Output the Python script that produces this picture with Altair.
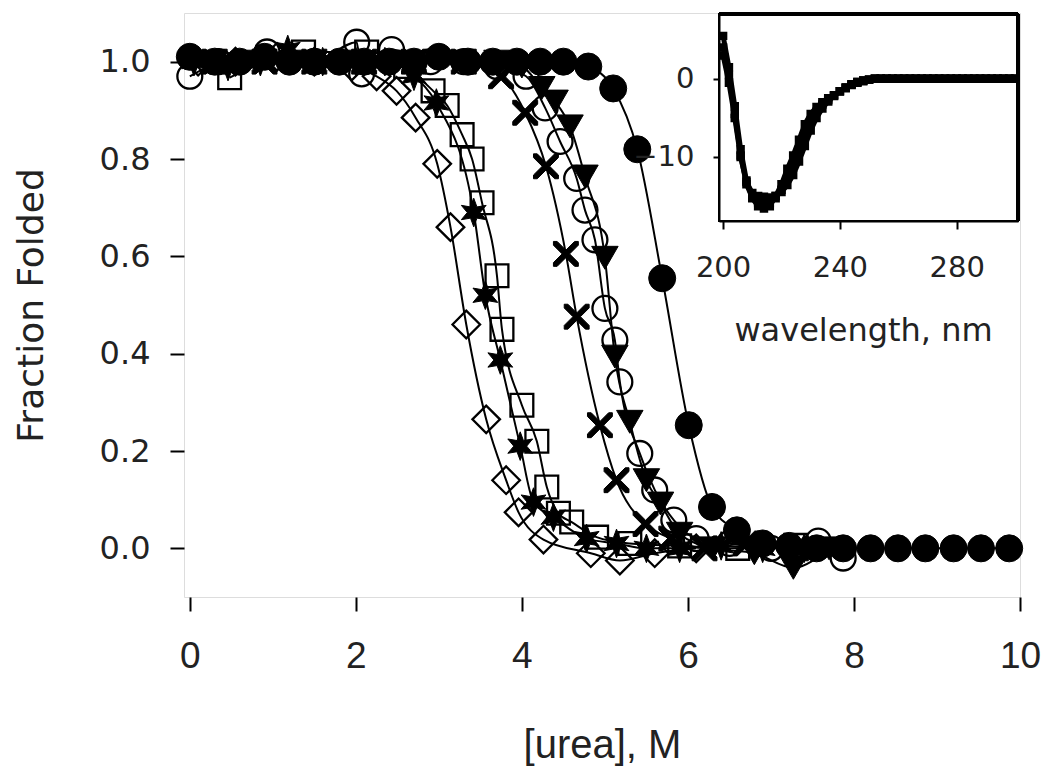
import altair as alt
import pandas as pd

# ---------------- main panel: fraction folded vs [urea] ----------------
fcirc_x = [0.0, 0.3, 0.6, 0.9, 1.2, 1.5, 1.8, 2.1, 2.4, 2.7, 3.0, 3.35, 3.65, 3.94, 4.22, 4.5,
           4.8, 5.1, 5.39, 5.69, 6.01, 6.29, 6.59, 6.9, 7.22, 7.55, 7.87, 8.2, 8.53, 8.86, 9.2, 9.53, 9.87]
fcirc_y = [1.01, 1.0, 1.0, 1.01, 1.0, 1.0, 1.0, 1.0, 1.0, 1.0, 1.01, 1.0, 1.0, 1.0, 1.0, 1.0,
           0.99, 0.945, 0.82, 0.555, 0.253, 0.085, 0.037, 0.01, 0.005, 0.0, 0.0, 0.0, 0.0, 0.0, 0.0, 0.0, 0.0]

ocirc_x = [0.0, 0.35, 0.93, 1.5, 2.01, 2.07, 2.43, 2.9, 3.3, 3.7, 4.05, 4.28, 4.46, 4.66, 4.76, 4.88,
           5.0, 5.12, 5.18, 5.42, 5.6, 5.83, 6.1, 6.5, 7.0, 7.57, 7.87]
ocirc_y = [0.97, 1.0, 1.02, 1.0, 1.04, 0.975, 1.025, 1.0, 1.0, 0.99, 0.97, 0.905, 0.836, 0.76, 0.695, 0.634,
           0.493, 0.428, 0.342, 0.195, 0.12, 0.058, 0.02, 0.01, 0.0, 0.015, -0.02]

tri_x = [0.2, 0.8, 1.4, 2.0, 2.6, 3.2, 3.7, 4.0, 4.24, 4.4, 4.58, 4.76, 5.0, 5.12, 5.3, 5.5, 5.67,
         5.9, 6.3, 6.8, 7.27, 7.7]
tri_y = [1.0, 1.0, 1.0, 1.0, 1.0, 1.0, 1.0, 0.99, 0.946, 0.918, 0.867, 0.764, 0.597, 0.394, 0.26, 0.14, 0.092,
         0.03, 0.0, -0.01, -0.04, 0.0]

sq_x = [0.48, 1.37, 2.13, 2.6, 2.93, 3.10, 3.28, 3.40, 3.52, 3.70, 3.76, 4.0, 4.18, 4.30, 4.44, 4.6,
        4.9, 5.3, 5.9, 6.6, 7.3]
sq_y = [0.967, 1.02, 1.02, 0.99, 0.94, 0.91, 0.85, 0.80, 0.71, 0.56, 0.45, 0.294, 0.22, 0.126, 0.072, 0.054,
        0.023, 0.01, 0.005, 0.0, 0.006]

dia_x = [0.1, 0.55, 1.05, 1.5, 1.95, 2.25, 2.49, 2.72, 2.98, 3.14, 3.33, 3.57, 3.81, 3.96, 4.26,
         4.83, 5.18, 5.6, 6.1]
dia_y = [1.0, 1.0, 1.01, 1.0, 0.99, 0.97, 0.94, 0.885, 0.79, 0.66, 0.46, 0.265, 0.14, 0.074, 0.018,
         -0.01, -0.025, -0.01, 0.0]

star_x = [0.05, 0.46, 0.85, 1.18, 1.6, 2.0, 2.35, 2.7, 2.97, 3.42, 3.56, 3.74, 3.98, 4.14, 4.38,
          4.78, 5.14, 5.5, 5.9, 6.4, 6.9, 7.4]
star_y = [1.0, 0.99, 1.0, 1.025, 1.0, 1.0, 1.0, 0.97, 0.915, 0.69, 0.52, 0.387, 0.21, 0.095, 0.064,
          0.02, 0.01, 0.0, 0.0, 0.005, 0.0, 0.0]

cross_x = [0.3, 0.9, 1.5, 2.1, 2.7, 3.3, 3.75, 4.04, 4.29, 4.53, 4.66, 4.94, 5.14, 5.49, 5.8, 6.2, 6.7, 7.3]
cross_y = [1.0, 1.0, 1.0, 1.0, 1.0, 1.0, 0.97, 0.895, 0.785, 0.605, 0.476, 0.253, 0.14, 0.05, 0.02, 0.0, 0.01, 0.0]

urea_ticks = [0, 2, 4, 6, 8, 10]
frac_ticks = [0.0, 0.2, 0.4, 0.6, 0.8, 1.0]

# ---------------- inset: CD spectra ----------------
wavelength = [200, 202, 204, 206, 208, 210, 212, 214, 216, 218, 220, 222, 224, 226, 228, 230, 232,
              234, 236, 238, 240, 242, 244, 246, 248, 250, 252, 254, 256, 258, 260, 262, 264, 266,
              268, 270, 272, 274, 276, 278, 280, 282, 284, 286, 288, 290, 292, 294, 296, 298, 300]
cd_a = [5.5, 1.5, -3.5, -9.0, -13.0, -15.3, -16.3, -16.6, -16.3, -15.0, -13.5, -11.5, -9.8, -7.8, -5.8,
        -4.5, -3.6, -3.0, -2.5, -2.1, -1.6, -1.2, -0.8, -0.5, -0.3, -0.1, 0.0, 0.0, 0.0, 0.0, 0.0, 0.0,
        0.0, 0.0, 0.0, 0.0, 0.0, 0.0, 0.0, 0.0, 0.0, 0.0, 0.0, 0.0, 0.0, 0.0, 0.0, 0.0, 0.0, 0.0, 0.0]
cd_b = [4.0, 0.5, -4.5, -9.8, -13.5, -15.2, -15.8, -16.0, -15.9, -15.3, -14.2, -12.6, -11.0, -9.1, -7.1,
        -5.4, -4.2, -3.3, -2.7, -2.1, -1.6, -1.1, -0.7, -0.4, -0.2, -0.1, 0.0, 0.0, 0.0, 0.0, 0.0, 0.0,
        0.0, 0.0, 0.0, 0.0, 0.0, 0.0, 0.0, 0.0, 0.0, 0.0, 0.0, 0.0, 0.0, 0.0, 0.0, 0.0, 0.0, 0.0, 0.0]
cd_c = [3.0, -0.5, -5.0, -10.0, -13.2, -14.6, -15.0, -15.1, -15.2, -15.0, -14.5, -13.6, -12.3, -10.6, -8.6,
        -6.6, -5.0, -3.8, -2.9, -2.2, -1.6, -1.1, -0.7, -0.4, -0.2, -0.1, 0.0, 0.0, 0.0, 0.0, 0.0, 0.0,
        0.0, 0.0, 0.0, 0.0, 0.0, 0.0, 0.0, 0.0, 0.0, 0.0, 0.0, 0.0, 0.0, 0.0, 0.0, 0.0, 0.0, 0.0, 0.0]
wl_ticks = [200, 240, 280]
cd_ticks = [0, -10]
inset_wl_domain = [198.6, 301.0]
inset_cd_domain = [-18.2, 8.3]

# ---------------- styling ----------------
W, H = 836, 584
TXT = "#222222"
STAR6 = "M0,-1L0.225,-0.39L0.866,-0.5L0.45,0L0.866,0.5L0.225,0.39L0,1L-0.225,0.39L-0.866,0.5L-0.45,0L-0.866,-0.5L-0.225,-0.39Z"
XMARK = "M0,-0.3L0.7,-1L1,-1L1,-0.7L0.3,0L1,0.7L1,1L0.7,1L0,0.3L-0.7,1L-1,1L-1,0.7L-0.3,0L-1,-0.7L-1,-1L-0.7,-1Z"

mx = alt.X(
    "urea:Q",
    scale=alt.Scale(domain=[-0.07, 10], nice=False, zero=False),
    axis=alt.Axis(values=urea_ticks, format="d", grid=False, domain=False,
                  tickSize=14, tickWidth=2, tickColor="black",
                  labelFont="Liberation Sans", labelFontSize=37, labelColor=TXT,
                  labelPadding=27, labelFlush=False,
                  title="[urea], M", titleFont="Liberation Sans", titleFontSize=40,
                  titleFontWeight="normal", titleColor=TXT,
                  titleBaseline="alphabetic", titleY=160),
)
my = alt.Y(
    "frac:Q",
    scale=alt.Scale(domain=[-0.1, 1.1], nice=False, zero=False),
    axis=alt.Axis(values=frac_ticks, format=".1f", grid=False, domain=False,
                  tickSize=14, tickWidth=2, tickColor="black",
                  labelFont="DejaVu Sans", labelFontSize=32, labelColor=TXT,
                  labelPadding=20, labelFlush=False,
                  title="Fraction Folded", titleFont="DejaVu Sans", titleFontSize=36,
                  titleFontWeight="normal", titleColor=TXT, titleAngle=270,
                  titleBaseline="alphabetic", titleX=-142),
)

series = [
    (dia_x, dia_y, "diamond", False, 760),
    (sq_x, sq_y, "square", False, 520),
    (star_x, star_y, STAR6, True, 820),
    (cross_x, cross_y, XMARK, True, 620),
    (ocirc_x, ocirc_y, "circle", False, 620),
    (tri_x, tri_y, "triangle-down", True, 700),
    (fcirc_x, fcirc_y, "circle", True, 730),
]

line_layers = []
point_layers = []
for xs, ys, shape, filled, size in series:
    d = pd.DataFrame({"urea": xs, "frac": ys})
    line_layers.append(
        alt.Chart(d).mark_line(color="black", strokeWidth=2, interpolate="monotone")
        .encode(x=mx, y=my)
    )
    if filled:
        pm = alt.Chart(d).mark_point(shape=shape, size=size, filled=True, fill="black",
                                     stroke="black", strokeWidth=1, opacity=1)
    else:
        pm = alt.Chart(d).mark_point(shape=shape, size=size, filled=False,
                                     stroke="black", strokeWidth=2.3, opacity=1)
    point_layers.append(pm.encode(x=mx, y=my))

main = alt.layer(*line_layers, *point_layers)

# ---------------- inset ----------------
wl_scale = alt.Scale(domain=inset_wl_domain, range=[535, 834], nice=False, zero=False)
cd_scale = alt.Scale(domain=inset_cd_domain, range=[208, 1], nice=False, zero=False)
wl_axis = alt.Axis(orient="bottom", offset=-376, values=wl_ticks, format="d", grid=False,
                   domain=True, domainWidth=2, domainColor="black",
                   tickSize=8, tickWidth=2, tickColor="black",
                   labelFont="DejaVu Sans", labelFontSize=29, labelColor=TXT,
                   labelPadding=24, labelFlush=False,
                   title="wavelength, nm", titleFont="DejaVu Sans", titleFontSize=32,
                   titleFontWeight="normal", titleColor=TXT,
                   titleBaseline="alphabetic", titleAlign="center", titleX=679, titleY=119,
                   zindex=2)
cd_axis = alt.Axis(orient="left", offset=-535, values=cd_ticks, format="d", grid=False,
                   domain=True, domainWidth=2, domainColor="black",
                   tickSize=6, tickWidth=2, tickColor="black",
                   labelFont="DejaVu Sans", labelFontSize=29, labelColor=TXT,
                   labelPadding=19, labelFlush=False, title=None, zindex=2)

ix = alt.X("wl:Q", scale=wl_scale, axis=wl_axis)
iy = alt.Y("cd:Q", scale=cd_scale, axis=cd_axis)

frame_df = pd.DataFrame({"wl": [inset_wl_domain[0]], "wl2": [inset_wl_domain[1]],
                         "cd": [inset_cd_domain[0]], "cd2": [inset_cd_domain[1]]})
frame = alt.Chart(frame_df).mark_rect(fill="white", stroke="black", strokeWidth=2).encode(
    x=ix, x2="wl2:Q", y=iy, y2="cd2:Q")
top_edge = alt.Chart(frame_df).mark_rule(color="black", strokeWidth=4).encode(
    x=ix, x2="wl2:Q", y=alt.Y("cd2:Q", scale=cd_scale, axis=cd_axis))
right_edge = alt.Chart(frame_df).mark_rule(color="black", strokeWidth=4).encode(
    x=alt.X("wl2:Q", scale=wl_scale, axis=wl_axis), y=iy, y2="cd2:Q")

spec_layers = []
for vals in (cd_a, cd_b, cd_c):
    d = pd.DataFrame({"wl": wavelength, "cd": vals})
    spec_layers.append(alt.Chart(d).mark_line(color="black", strokeWidth=5).encode(x=ix, y=iy))
    spec_layers.append(alt.Chart(d).mark_point(shape="square", size=42, filled=True, fill="black",
                                               stroke="black", opacity=1).encode(x=ix, y=iy))

inset = alt.layer(frame, *spec_layers, top_edge, right_edge)

chart = (
    alt.layer(main, inset)
    .resolve_scale(x="independent", y="independent")
    .properties(width=W, height=H,
                autosize=alt.AutoSizeParams(type="none"),
                padding={"left": 176, "top": 5, "right": 22, "bottom": 171})
    .configure_view(stroke="black", strokeWidth=2)
    .configure(background="white")
)

chart.save("out.html", embed_options={"renderer": "svg", "actions": False})
